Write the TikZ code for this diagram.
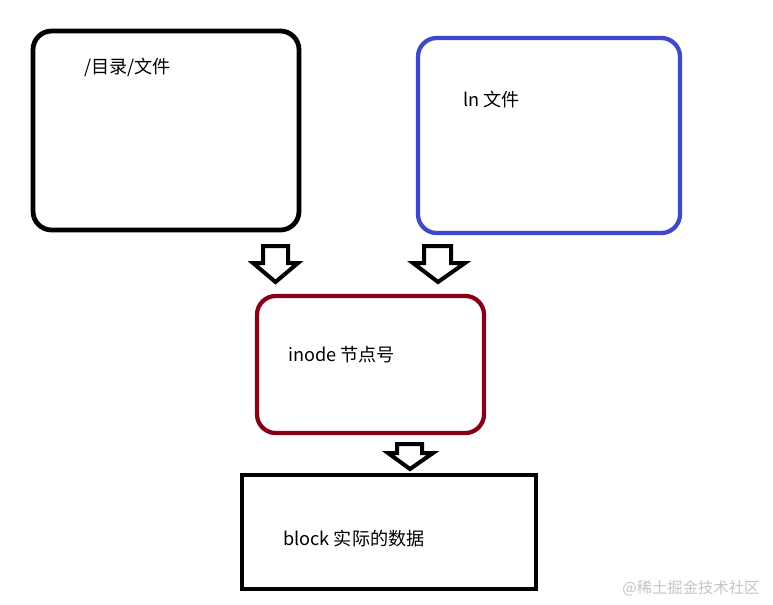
\documentclass[tikz,border=0pt]{standalone}
\usepackage{fontspec}
\setmainfont{Noto Sans CJK SC}
\definecolor{boxblue}{HTML}{3F48CC}
\definecolor{boxred}{HTML}{880015}
\definecolor{wm}{HTML}{C4C4C4}
\begin{document}
\begin{tikzpicture}[x=0.75pt,y=-0.75pt,
  box/.style={line width=3.6pt,rounded corners=14pt},
  blockarrow/.style={draw=black,fill=white,line width=3pt,line join=miter},
  lbl/.style={anchor=west,inner sep=0pt,font=\fontsize{13.6pt}{15pt}\selectfont}]
\useasboundingbox (0,0) rectangle (773,604);
% boxes
\draw[box,draw=black] (33,31) rectangle (299,230);
\draw[box,draw=boxblue,line width=3.2pt] (418,38) rectangle (680,233);
\draw[box,draw=boxred,line width=3.2pt] (257,296) rectangle (484,433);
\draw[line width=3.2pt,draw=black] (242,475) rectangle (536,589);
% labels
\node[lbl] (t1) at (84,67) {/目录/文件};
\node[lbl] (t2) at (463,100) {ln 文件};
\node[lbl] (t3) at (288,355) {inode 节点号};
\node[lbl] (t4) at (283,539) {block 实际的数据};
% block arrows
\draw[blockarrow] (263,246) -- (288,246) -- (288,263) -- (298,263) -- (275.5,282) -- (253,263) -- (263,263) -- cycle;
\draw[blockarrow] (424,246) -- (451,246) -- (451,263) -- (465,263) -- (438,282) -- (413,263) -- (424,263) -- cycle;
\draw[blockarrow] (397,444) -- (422,444) -- (422,453) -- (433,453) -- (410,469) -- (388,453) -- (397,453) -- cycle;
% watermark
\node[anchor=west,inner sep=0pt,text=wm,font=\fontsize{11.5pt}{13pt}\selectfont] (wm) at (622,588) {@稀土掘金技术社区};
\end{tikzpicture}
\end{document}
